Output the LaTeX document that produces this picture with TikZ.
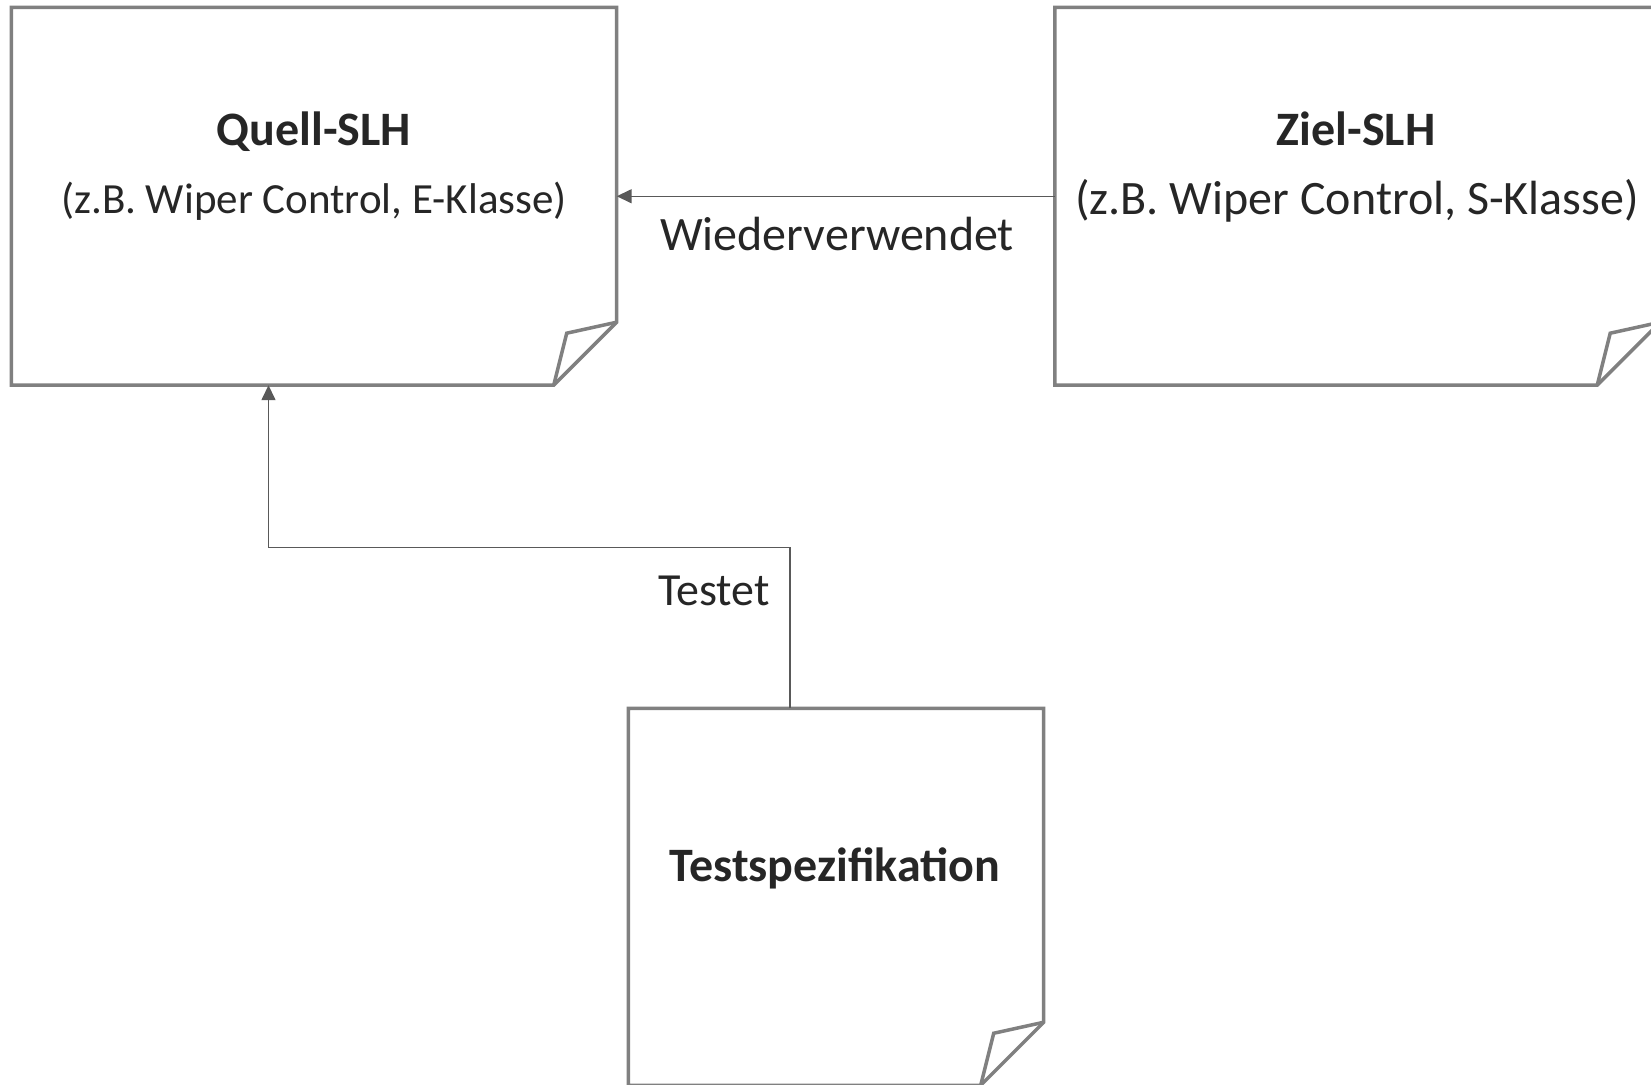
\documentclass[tikz,border=0pt]{standalone}
\usepackage{fontspec}
\setmainfont{Carlito}
\usetikzlibrary{arrows.meta}
\definecolor{boxgray}{RGB}{128,128,128}
\definecolor{arrgray}{RGB}{89,89,89}
\definecolor{txt}{RGB}{38,38,38}
\tikzset{
  doc/.style={draw=none,inner sep=0pt},
  fold/.style={draw=boxgray,line width=3.5pt,line join=miter},
  arr/.style={draw=arrgray,line width=1.5pt,-{Triangle[length=15pt,width=14pt]}},
  lbl/.style={text=txt,inner sep=0pt},
}
\newcommand{\docframe}[1]{%
  \draw[fold] (#1.north west) -- (#1.north east) -- ([yshift=63pt]#1.south east)
    -- ([xshift=-63pt]#1.south east) -- (#1.south west) -- cycle;
  \draw[fold] ([yshift=63pt]#1.south east) -- ([xshift=-50pt,yshift=52pt]#1.south east)
    -- ([xshift=-63pt]#1.south east);}
\begin{document}
\begin{tikzpicture}[x=1pt,y=-1pt]
  \useasboundingbox[fill=white] (0,0) rectangle (1651,1084);
  \node[doc,minimum width=605pt,minimum height=377.5pt] (quell) at (314,196.25) {};
  \node[doc,minimum width=605pt,minimum height=377.5pt] (ziel) at (1357.5,196.25) {};
  \node[doc,minimum width=415pt,minimum height=376.5pt] (test) at (836,896.8) {};
  \docframe{quell}
  \docframe{ziel}
  \docframe{test}
  \node[lbl,font=\fontsize{48}{58}\selectfont\bfseries] (quelltitle) at (314,132) {Quell-SLH};
  \node[lbl,font=\fontsize{43}{52}\selectfont] (quellsub) at (314,201) {(z.B. Wiper Control, E-Klasse)};
  \node[lbl,font=\fontsize{48}{58}\selectfont\bfseries] (zieltitle) at (1356,129) {Ziel-SLH};
  \node[lbl,font=\fontsize{48}{58}\selectfont] (zielsub) at (1357,201) {(z.B. Wiper Control, S-Klasse)};
  \node[lbl,font=\fontsize{48}{58}\selectfont\bfseries] (testtitle) at (835,868) {Testspezifikation};
  \node[lbl,font=\fontsize{48}{58}\selectfont] (wv) at (837,234) {Wiederverwendet};
  \node[lbl,font=\fontsize{46}{56}\selectfont] (testet) at (714,591) {Testet};
  \draw[arr] (ziel.west) -- (quell.east);
  \draw[arr] ([xshift=-46pt]test.north) -- ([xshift=-46pt]test.north |- 0,547.5)
    -| ([xshift=-45.5pt]quell.south);
\end{tikzpicture}
\end{document}
